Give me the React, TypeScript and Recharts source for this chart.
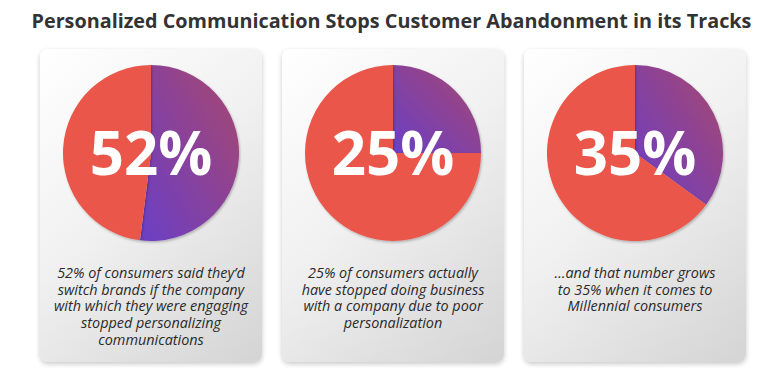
import { PieChart, Pie, Cell, Label } from "recharts";

const title = "Personalized Communication Stops Customer Abandonment in its Tracks";
const shares = [52, 25, 35];
const remainders = [48, 75, 65];
const bigLabels = ["52%", "25%", "35%"];
const captions = [
  ["52% of consumers said they’d", "switch brands if the company", "with which they were engaging", "stopped personalizing", "communications"],
  ["25% of consumers actually", "have stopped doing business", "with a company due to poor", "personalization"],
  ["…and that number grows", "to 35% when it comes to", "Millennial consumers"],
];

const RED = "#ea564a";
const FONT = "'Open Sans', 'Noto Sans', sans-serif";

function StatCard({ idx, left }: { idx: number; left: number }) {
  const data = [
    { name: "share", value: shares[idx] },
    { name: "rest", value: remainders[idx] },
  ];
  const gid = `purple${idx}`;
  const sid = `shadow${idx}`;
  return (
    <div
      style={{
        position: "absolute",
        left,
        top: 49,
        width: 222,
        height: 313,
        borderRadius: 8,
        background: "linear-gradient(140deg, #ffffff 0%, #f1f1f1 45%, #d4d4d4 100%)",
        boxShadow: "0 2px 5px rgba(0,0,0,0.22)",
      }}
    >
      <PieChart width={222} height={210} margin={{ top: 0, right: 0, bottom: 0, left: 0 }}>
        <defs>
          <linearGradient id={gid} x1="0" y1="1" x2="1" y2="0">
            <stop offset="0%" stopColor="#6a3fc6" />
            <stop offset="100%" stopColor="#a8466e" />
          </linearGradient>
          <filter id={sid} x="-10%" y="-10%" width="120%" height="120%">
            <feDropShadow dx="1" dy="1.5" stdDeviation="1.2" floodColor="#000" floodOpacity="0.25" />
          </filter>
        </defs>
        <Pie
          data={data}
          dataKey="value"
          cx="50%"
          cy={104}
          outerRadius={88}
          startAngle={90}
          endAngle={-270}
          stroke="none"
          isAnimationActive={false}
        >
          <Cell fill={`url(#${gid})`} filter={`url(#${sid})`} />
          <Cell fill={RED} filter={`url(#${sid})`} />
          <Label
            value={bigLabels[idx]}
            position="center"
            fill="#ffffff"
            fontSize={60}
            fontWeight={700}
            fontFamily={FONT}
          />
        </Pie>
      </PieChart>
      <p
        style={{
          position: "absolute",
          left: 0,
          top: 216,
          margin: 0,
          width: 222,
          textAlign: "center",
          fontFamily: FONT,
          fontStyle: "italic",
          fontSize: 14.4,
          lineHeight: "16.7px",
          color: "#2a2a2a",
        }}
      >
        {captions[idx].map((line, i) => (
          <span key={i}>
            {line}
            {i < captions[idx].length - 1 && <br />}
          </span>
        ))}
      </p>
    </div>
  );
}

export default function App() {
  return (
    <div
      style={{
        position: "absolute",
        left: 0,
        top: 0,
        width: 783,
        height: 375,
        background: "#ffffff",
        fontFamily: FONT,
      }}
    >
      <div
        style={{
          position: "absolute",
          left: 0,
          top: 7,
          width: 783,
          textAlign: "center",
          fontSize: 19.8,
          fontWeight: 700,
          color: "#333333",
        }}
      >
        {title}
      </div>
      <StatCard idx={0} left={40} />
      <StatCard idx={1} left={282} />
      <StatCard idx={2} left={524} />
    </div>
  );
}
